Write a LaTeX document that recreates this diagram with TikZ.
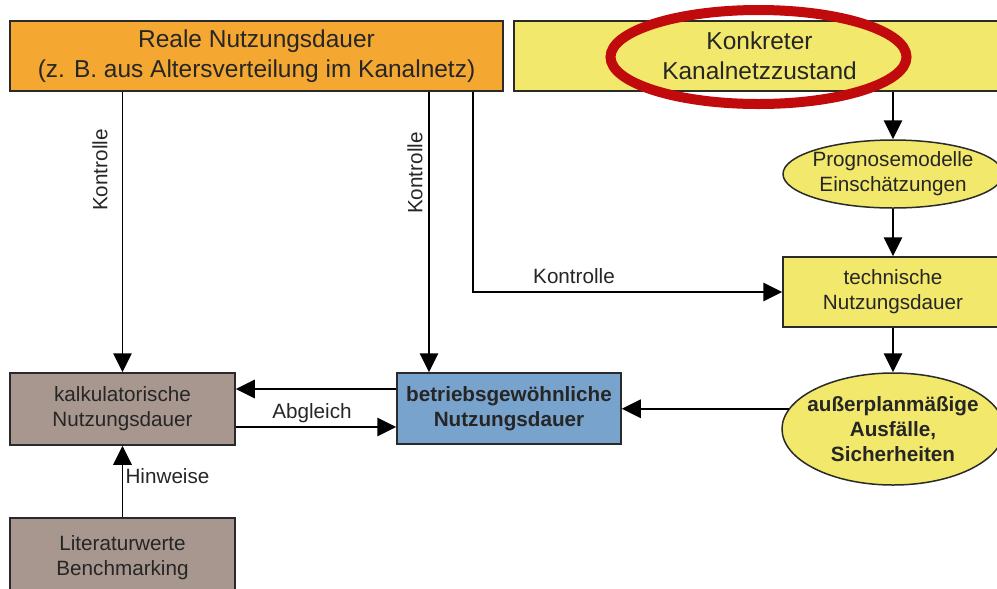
\documentclass[tikz,border=0pt]{standalone}
\usepackage{fontspec}
\setmainfont{Liberation Sans}
\usetikzlibrary{shapes.geometric,arrows.meta}

\definecolor{realeorange}{HTML}{F4A832}
\definecolor{zustandyellow}{HTML}{F2E86B}
\definecolor{kalkbrown}{HTML}{A8978F}
\definecolor{betriebblue}{HTML}{78A3CD}
\definecolor{ringred}{HTML}{C00A0C}
\definecolor{linegray}{HTML}{2A2A2A}

\newlength\pu
\setlength\pu{0.025cm}
\newcommand\bigtxt{\fontsize{17.4pt}{21.3pt}\selectfont}
\newcommand\smalltxt{\fontsize{14.7pt}{17.8pt}\selectfont}

\begin{document}
\begin{tikzpicture}[x=0.025cm, y=-0.025cm,
    box/.style = {draw=linegray, line width=1.5\pu, align=center, inner sep=0pt, text=black!85},
    oval/.style = {box, ellipse, inner sep=-8\pu},
    arr/.style = {draw=black, line width=0.045cm, -{Triangle[length=0.475cm, width=0.46cm]}},
    lbl/.style = {font=\smalltxt, inner sep=0pt, text=black!85}]
    \useasboundingbox (0,0) rectangle (997,588);
    \fill[white] (0,0) rectangle (997,588);

    % top row
    \node[box, fill=realeorange, minimum width=493\pu, minimum height=70\pu, font=\bigtxt] (reale) at (256.5,56)
        {Reale Nutzungsdauer\\(z. B. aus Altersverteilung im Kanalnetz)};
    \node[box, fill=zustandyellow, minimum width=491\pu, minimum height=70\pu, font=\bigtxt] (zustand) at (759.5,56)
        {Konkreter\\Kanalnetzzustand};
    \node[draw=ringred, line width=10\pu, ellipse, inner sep=0pt, minimum width=296\pu, minimum height=94\pu] (ring) at (758.5,57) {};

    % right column
    \node[oval, fill=zustandyellow, minimum width=220\pu, minimum height=68\pu, font=\smalltxt] (prog) at (893,174)
        {Prognosemodelle\\Einschätzungen};
    \node[box, fill=zustandyellow, minimum width=220\pu, minimum height=70\pu, font=\smalltxt] (tech) at (893,292)
        {technische\\Nutzungsdauer};
    \node[oval, fill=zustandyellow, minimum width=222\pu, minimum height=112\pu, font=\smalltxt\bfseries] (ausser) at (893,429)
        {außerplanmäßige\\Ausfälle,\\Sicherheiten};

    % middle and left
    \node[box, fill=betriebblue, minimum width=224\pu, minimum height=71\pu, font=\smalltxt\bfseries] (betrieb) at (509,408.5)
        {betriebsgewöhnliche\\Nutzungsdauer};
    \node[box, fill=kalkbrown, minimum width=225\pu, minimum height=72\pu, font=\smalltxt] (kalk) at (122.5,409)
        {kalkulatorische\\Nutzungsdauer};
    \node[box, fill=kalkbrown, minimum width=225\pu, minimum height=80\pu, font=\smalltxt] (lit) at (122.5,558)
        {Literaturwerte\\Benchmarking};

    % connectors
    \draw[arr] (reale.south -| kalk.north) -- (kalk.north);
    \draw[arr] (reale.south -| 429,0) -- (betrieb.north -| 429,0);
    \draw[arr] (reale.south -| 473,0) |- (tech.west);
    \draw[arr] (zustand.south -| prog.north) -- (prog.north);
    \draw[arr] (prog.south) -- (tech.north);
    \draw[arr] (tech.south) -- (ausser.north);
    \draw[arr] (ausser.169) -- (betrieb.east |- ausser.169);
    \draw[arr] (betrieb.west |- 0,389) -- (kalk.east |- 0,389);
    \draw[arr] (kalk.east |- 0,427) -- (betrieb.west |- 0,427);
    \draw[arr] (lit.north) -- (kalk.south);

    % labels
    \node[lbl, rotate=90] (ktr1) at (100,170) {Kontrolle};
    \node[lbl, rotate=90] (ktr2) at (415,173) {Kontrolle};
    \node[lbl, anchor=base] (ktr3) at (574,283) {Kontrolle};
    \node[lbl, anchor=base] (abgl) at (312,418) {Abgleich};
    \node[lbl, anchor=base] (hinw) at (167.5,483) {Hinweise};
\end{tikzpicture}
\end{document}
